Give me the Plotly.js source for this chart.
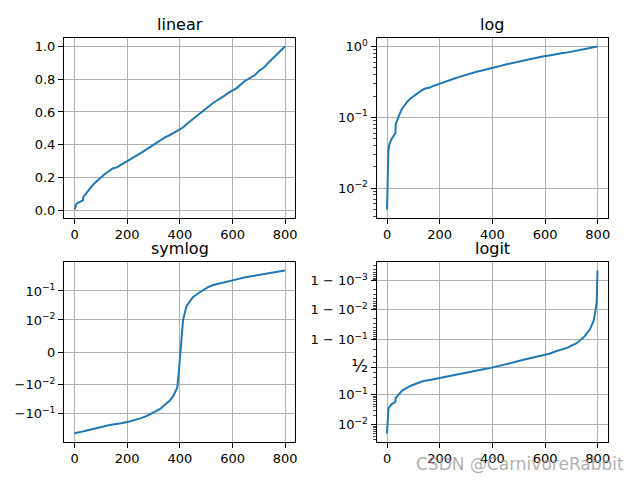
<!DOCTYPE html>
<html>
<head>
<meta charset="utf-8">
<script src="https://cdn.plot.ly/plotly-3.0.1.min.js"></script>
<style>html,body{margin:0;padding:0;background:#fff;}#chart{width:640px;height:480px;}</style>
</head>
<body>
<div id="chart"></div>
<script>
// Sample index (x) and sorted values (y)
const xIdx = [0, 1, 3, 5, 8, 11, 18, 24, 30, 32, 33, 39, 47, 56, 65, 75, 88, 100, 113, 130,
  145, 160, 177, 200, 225, 253, 275, 300, 325, 343, 361, 375, 390, 395, 402, 412, 425, 450,
  476, 488, 507, 526, 546, 570, 590, 616, 644, 667, 686, 701, 717, 739, 749, 771, 779, 784,
  790, 794, 796, 797, 798, 799];
const yVals = [0.005, 0.0095, 0.02, 0.033, 0.040, 0.044, 0.050, 0.054, 0.057, 0.060, 0.080,
  0.093, 0.110, 0.130, 0.146, 0.163, 0.183, 0.198, 0.218, 0.238, 0.255, 0.262, 0.278, 0.296,
  0.320, 0.350, 0.373, 0.400, 0.425, 0.445, 0.458, 0.470, 0.482, 0.488, 0.495, 0.505, 0.525,
  0.557, 0.585, 0.603, 0.630, 0.655, 0.674, 0.700, 0.723, 0.746, 0.786, 0.810, 0.827, 0.852,
  0.868, 0.905, 0.920, 0.955, 0.968, 0.976, 0.987, 0.992, 0.9945, 0.9975, 0.9990, 0.99956];
const yMean = 0.495;   // value where the symlog curve crosses zero

const titles = ["linear", "log", "symlog", "logit"];
const xTicks = [0, 200, 400, 600, 800];
const linTicks = [0.0, 0.2, 0.4, 0.6, 0.8, 1.0];
const linTickText = ["0.0", "0.2", "0.4", "0.6", "0.8", "1.0"];
const logTicks = [0.01, 0.1, 1];
const logTickText = ["10<sup>−2</sup>", "10<sup>−1</sup>", "10<sup>0</sup>"];
const symTicks = [-0.1, -0.01, 0, 0.01, 0.1];
const symTickText = ["−10<sup>−1</sup>", "−10<sup>−2</sup>", "0", "10<sup>−2</sup>", "10<sup>−1</sup>"];
const logitTicks = [0.01, 0.1, 0.5, 0.9, 0.99, 0.999];
const logitTickText = ["10<sup>−2</sup>", "10<sup>−1</sup>", "<span style='font-size:17px'>½</span>",
  "1 − 10<sup>−1</sup>", "1 − 10<sup>−2</sup>", "1 − 10<sup>−3</sup>"];

// scale transforms (plotly has no symlog / logit axes)
const LINTHRESH = 0.01;
const LINSCALE = 1 / (1 - 1 / 10);
function symlog(v) {
  const a = Math.abs(v);
  if (a <= LINTHRESH) return v / LINTHRESH * LINSCALE;
  return Math.sign(v) * (LINSCALE + Math.log10(a / LINTHRESH));
}
function logit(p) { return Math.log10(p / (1 - p)); }
function padRange(lo, hi) { const d = (hi - lo) * 0.05; return [lo - d, hi + d]; }

const ySym = yVals.map(v => symlog(v - yMean));
const yLogit = yVals.map(logit);

const lineStyle = {color: "#1f77b4", width: 2};
const traces = [
  {x: xIdx, y: yVals, xaxis: "x", yaxis: "y"},
  {x: xIdx, y: yVals, xaxis: "x2", yaxis: "y2"},
  {x: xIdx, y: ySym, xaxis: "x3", yaxis: "y3"},
  {x: xIdx, y: yLogit, xaxis: "x4", yaxis: "y4"}
].map(t => Object.assign(t, {type: "scatter", mode: "lines", line: lineStyle, hoverinfo: "skip"}));

const font = {family: "DejaVu Sans", size: 13, color: "#000"};
const xMin = Math.min(...xIdx), xMax = Math.max(...xIdx);
const xr = padRange(xMin, xMax);
function baseAxis(domain, anchor) {
  return {domain: domain, anchor: anchor, showline: true, mirror: true, linecolor: "#000",
    linewidth: 1, ticks: "outside", ticklen: 5, tickwidth: 1, tickcolor: "#000",
    showgrid: true, gridcolor: "#b0b0b0", gridwidth: 1, zeroline: false, tickfont: font,
    fixedrange: true};
}
function xAxis(domain, anchor) {
  return Object.assign(baseAxis(domain, anchor), {range: xr, tickmode: "array", tickvals: xTicks,
    ticktext: xTicks.map(String)});
}
const L = [0.1, 0.4617], R = [0.5883, 0.95], T = [0.5467, 0.92], B = [0.08, 0.4533];

const yMin = Math.min(...yVals), yMax = Math.max(...yVals);
const logMinor = [];
[0.001, 0.01, 0.1].forEach(d => { for (let k = 2; k <= 9; k++) logMinor.push(k * d); });
const logitMinor = [];
for (let k = 3; k <= 9; k++) logitMinor.push(logit(k * 0.001));
for (let k = 2; k <= 9; k++) logitMinor.push(logit(k * 0.01));
[0.2, 0.3, 0.4, 0.6, 0.7, 0.8].forEach(p => logitMinor.push(logit(p)));
for (let k = 1; k <= 8; k++) logitMinor.push(logit(0.9 + k * 0.01));
for (let k = 1; k <= 8; k++) logitMinor.push(logit(0.99 + k * 0.001));
for (let k = 1; k <= 7; k++) logitMinor.push(logit(0.999 + k * 0.0001));
const minorStyle = {ticks: "outside", ticklen: 2.5, tickwidth: 0.7, tickcolor: "#000", showgrid: false};

const layout = {
  width: 640, height: 480, margin: {l: 0, r: 0, t: 0, b: 0},
  paper_bgcolor: "#fff", plot_bgcolor: "#fff", showlegend: false, font: font,
  xaxis: xAxis(L, "y"),
  yaxis: Object.assign(baseAxis(T, "x"), {range: padRange(yMin, yMax), tickmode: "array",
    tickvals: linTicks, ticktext: linTickText}),
  xaxis2: xAxis(R, "y2"),
  yaxis2: Object.assign(baseAxis(T, "x2"), {type: "log",
    range: padRange(Math.log10(yMin), Math.log10(yMax)), tickmode: "array",
    tickvals: logTicks, ticktext: logTickText,
    minor: Object.assign({tickmode: "array", tickvals: logMinor}, minorStyle)}),
  xaxis3: xAxis(L, "y3"),
  yaxis3: Object.assign(baseAxis(B, "x3"), {range: padRange(Math.min(...ySym), Math.max(...ySym)),
    tickmode: "array", tickvals: symTicks.map(symlog), ticktext: symTickText}),
  xaxis4: xAxis(R, "y4"),
  yaxis4: Object.assign(baseAxis(B, "x4"), {range: padRange(Math.min(...yLogit), Math.max(...yLogit)),
    tickmode: "array", tickvals: logitTicks.map(logit), ticktext: logitTickText,
    minor: Object.assign({tickmode: "array", tickvals: logitMinor}, minorStyle)}),
  annotations: titles.map((t, i) => ({
    text: t, xref: (i ? "x" + (i + 1) : "x") + " domain", yref: (i ? "y" + (i + 1) : "y") + " domain",
    x: 0.5, y: 1, xanchor: "center", yanchor: "bottom", yshift: 2, showarrow: false,
    font: {family: "DejaVu Sans", size: 16, color: "#000"}
  })).concat([{
    text: "CSDN @CarnivoreRabbit", xref: "paper", yref: "paper", x: 0.978, y: 0.008,
    xanchor: "right", yanchor: "bottom", showarrow: false,
    font: {family: "DejaVu Sans", size: 17, color: "rgba(150,150,150,0.75)"}
  }])
};

Plotly.newPlot("chart", traces, layout, {staticPlot: true, displayModeBar: false});
</script>
</body>
</html>
